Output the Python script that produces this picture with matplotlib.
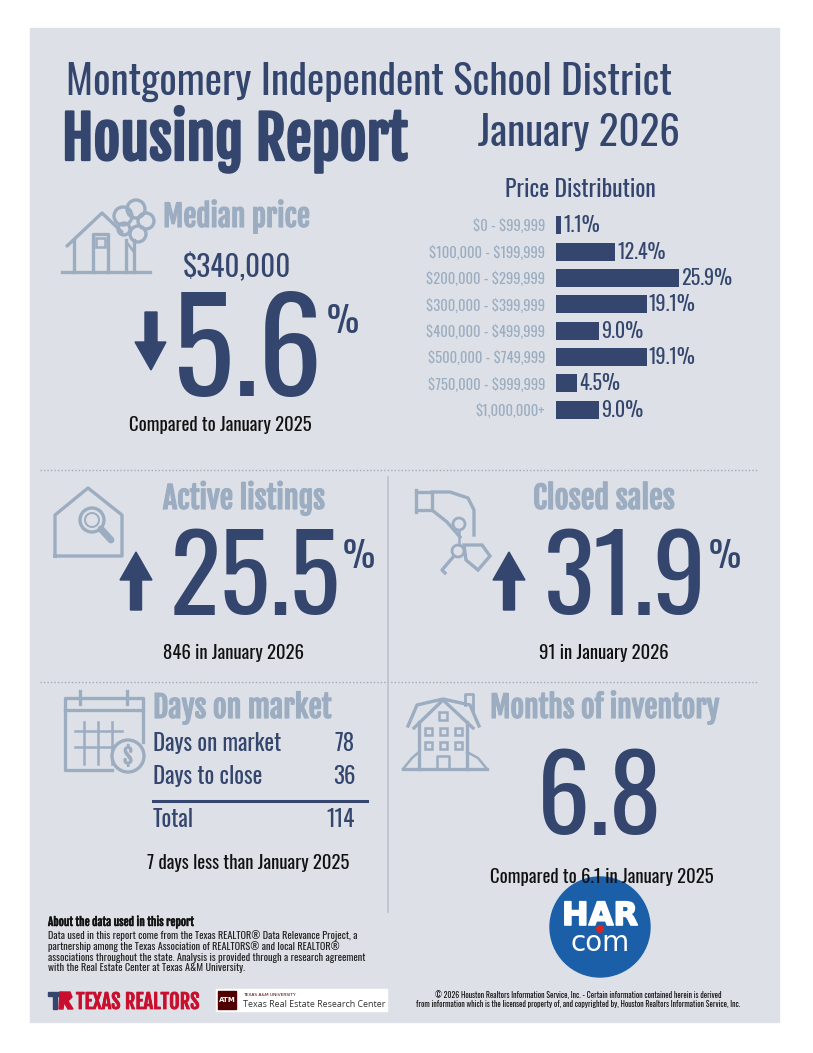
import matplotlib
matplotlib.use("Agg")
import matplotlib.pyplot as plt
from matplotlib import font_manager as fm
from matplotlib import patheffects as pe
from matplotlib.patches import Rectangle, Circle, Polygon

# ---- data ----
area_name = "Montgomery Independent School District"
report_month = "January 2026"
price_bins = ["$0 - $99,999", "$100,000 - $199,999", "$200,000 - $299,999",
              "$300,000 - $399,999", "$400,000 - $499,999", "$500,000 - $749,999",
              "$750,000 - $999,999", "$1,000,000+"]
price_share = [1.1, 12.4, 25.9, 19.1, 9.0, 19.1, 4.5, 9.0]
median_price = "$340,000"
median_change = "5.6"
active_change = "25.5"
active_count = "846 in January 2026"
closed_change = "31.9"
closed_count = "91 in January 2026"
dom_rows = ["Days on market", "Days to close"]
dom_vals = [78, 36]
dom_note = "7 days less than January 2025"
months_inv = "6.8"
months_note = "Compared to 6.1 in January 2025"

NAVY = "#34466e"
LIGHT = "#9cadc1"
PANEL = "#dde1e7"
INK = "#111111"

fonts = fm.fontManager.ttflist
avail = {f.name for f in fonts}
COND = next((f for f in ["Oswald", "Barlow Condensed", "Roboto Condensed", "Archivo Narrow"]
             if f in avail), "DejaVu Sans")
if "Fjalla One" in avail:
    BOLDF, BOLDW = "Fjalla One", "normal"
elif "Barlow Condensed" in avail:
    BOLDF, BOLDW = "Barlow Condensed", "bold"
else:
    BOLDF, BOLDW = COND, "bold"

W, H = 813, 1053
fig = plt.figure(figsize=(W / 100, H / 100), dpi=100)
ax = fig.add_axes([0, 0, 1, 1])
ax.set_xlim(0, W)
ax.set_ylim(H, 0)
ax.axis("off")
renderer = fig.canvas.get_renderer()

ax.add_patch(Rectangle((30, 28), 749, 994, color=PANEL, zorder=0))


def esc(s):
    return s.replace("$", r"\$")


def txt(x, y, s, size, color=NAVY, weight="normal", ha="left", va="baseline", family=None,
        width=None, **kw):
    heavy = weight == "bold" and family is None
    if heavy:
        family, weight = [BOLDF, "DejaVu Sans"], BOLDW
    t = ax.text(x, y, esc(s), fontsize=size, color=color, fontweight=weight, ha=ha, va=va,
                family=family or [COND, "DejaVu Sans"], **kw)
    if width:
        # scale font so the text spans the same width as in the reference
        w = t.get_window_extent(renderer).width
        t.set_fontsize(size * width / w)
    if heavy:
        t.set_path_effects([pe.withStroke(linewidth=t.get_fontsize() * 0.04,
                                          foreground=color)])
    return t


# ---- header ----
txt(66, 95, area_name, 29.6, width=607)
txt(62, 160, "Housing Report", 38, weight="bold", width=346)
txt(478, 146, report_month, 30, width=202)

# ---- median price ----
txt(163, 227, "Median price", 21, color=LIGHT, weight="bold", width=147)
txt(237, 276, median_price, 21, ha="center")
txt(322, 396, median_change, 92, ha="right")
txt(327, 333, "%", 26)
ax.add_patch(Polygon([(145, 312), (157, 312), (157, 342), (166, 342), (151, 370),
                      (135, 342), (145, 342)], closed=True, color=NAVY))
txt(220, 431, "Compared to January 2025", 13.5, color=INK, ha="center")

# house + tree icon
lw = 2.4
ax.plot([62, 150], [272, 272], color=LIGHT, lw=lw)
ax.plot([67, 102, 122], [246, 213, 232], color=LIGHT, lw=lw, solid_capstyle="round")
ax.plot([74, 74], [240, 272], color=LIGHT, lw=lw)
ax.plot([126, 126], [240, 272], color=LIGHT, lw=lw)
ax.plot([93, 93, 108, 108], [272, 234, 234, 272], color=LIGHT, lw=lw)
ax.add_patch(Rectangle((96, 238), 9, 9, fill=False, ec=LIGHT, lw=1.8))
for cx, cy, r in [(123, 216, 9), (136, 209, 9), (146, 221, 8), (138, 234, 8), (124, 229, 6)]:
    ax.add_patch(Circle((cx, cy), r, fill=False, ec=LIGHT, lw=lw))
ax.plot([134, 134], [240, 272], color=LIGHT, lw=lw)
ax.plot([134, 128], [252, 244], color=LIGHT, lw=1.8)

# ---- price distribution ----
txt(580, 197, "Price Distribution", 17, ha="center")
bx = fig.add_axes([556 / W, 1 - 423 / H, 130 / W, 211 / H])
bx.set_xlim(0, 130 / 4.75)
bx.set_ylim(len(price_bins) - 0.5, -0.5)
bx.barh(range(len(price_bins)), price_share, height=0.68, color=NAVY)
bx.set_yticks(range(len(price_bins)))
bx.set_yticklabels([esc(b) for b in price_bins], color=LIGHT, fontsize=10.5,
                   family=[COND, "DejaVu Sans"])
bx.tick_params(axis="y", length=0, pad=8)
bx.set_xticks([])
for s in bx.spines.values():
    s.set_visible(False)
bx.patch.set_visible(False)
for i, v in enumerate(price_share):
    bx.text(v + 0.45, i, f"{v:.1f}%", va="center", ha="left", fontsize=14.5, color=NAVY,
            family=[COND, "DejaVu Sans"])

# ---- separators ----
ax.plot([40, 757], [470, 470], color="#a3aab6", lw=1, ls=(0, (1, 1.5)))
ax.plot([40, 757], [682, 682], color="#a3aab6", lw=1, ls=(0, (1, 1.5)))
ax.plot([388, 388], [477, 912], color="#bcc2cb", lw=1.2)


def up_arrow(x0, x1, top, bottom):
    cx = (x0 + x1) / 2
    hw = 5.5
    ax.add_patch(Polygon([(cx, top), (x1, top + 28), (cx + hw, top + 28), (cx + hw, bottom),
                          (cx - hw, bottom), (cx - hw, top + 28), (x0, top + 28)],
                         closed=True, color=NAVY))


# ---- active listings ----
txt(163, 509, "Active listings", 21, color=LIGHT, weight="bold", width=162)
up_arrow(120, 152, 552, 610)
txt(340, 615, active_change, 76, ha="right")
txt(343, 568, "%", 26)
txt(233, 659, active_count, 13.5, color=INK, ha="center")
ax.plot([55, 55, 88, 122, 122, 55], [556, 515, 488, 515, 556, 556], color=LIGHT, lw=lw,
        solid_joinstyle="round")
ax.add_patch(Circle((92, 520), 12, fill=False, ec=LIGHT, lw=lw))
ax.add_patch(Circle((92, 520), 7, fill=False, ec=LIGHT, lw=1.4))
ax.plot([101, 111], [529, 540], color=LIGHT, lw=5, solid_capstyle="round")

# ---- closed sales ----
txt(533, 509, "Closed sales", 21, color=LIGHT, weight="bold", width=142)
up_arrow(493, 525, 552, 610)
txt(707, 615, closed_change, 76, ha="right")
txt(709, 568, "%", 26)
txt(604, 659, closed_count, 13.5, color=INK, ha="center")
ax.plot([416, 416], [490, 512], color=LIGHT, lw=lw)
ax.plot([416, 432, 432, 416], [492, 492, 510, 510], color=LIGHT, lw=lw)
ax.plot([432, 450, 468, 474, 474], [492, 492, 498, 510, 535], color=LIGHT, lw=lw)
ax.plot([432, 447, 460], [510, 522, 537], color=LIGHT, lw=lw)
ax.add_patch(Circle((459, 524), 6, fill=False, ec=LIGHT, lw=2))
ax.plot([459, 459], [530, 545], color=LIGHT, lw=1.8)
ax.add_patch(Circle((458, 551), 6, fill=False, ec=LIGHT, lw=2))
ax.plot([454, 442, 445], [556, 570, 573], color=LIGHT, lw=lw)
ax.add_patch(Polygon([(464, 545), (482, 545), (490, 556), (478, 570), (466, 560)],
                     closed=True, fill=False, ec=LIGHT, lw=lw))

# ---- days on market ----
txt(153, 718, "Days on market", 21, color=LIGHT, weight="bold", width=178)
for i, (lab, val) in enumerate(zip(dom_rows, dom_vals)):
    y = 751 + i * 33
    txt(153, y, lab, 16.5)
    txt(355, y, str(val), 16.5, ha="right")
ax.plot([153, 367], [801, 801], color=NAVY, lw=2.2)
txt(153, 827, "Total", 16.5)
txt(355, 827, str(sum(dom_vals)), 16.5, ha="right")
txt(248, 869, dom_note, 13.5, color=INK, ha="center")
# calendar icon
ax.plot([112, 65, 65, 143, 143], [770, 770, 698, 698, 742], color=LIGHT, lw=lw)
ax.plot([65, 143], [710, 710], color=LIGHT, lw=lw)
for x in [80, 127]:
    ax.plot([x, x], [691, 704], color=LIGHT, lw=lw)
for x in [84, 98, 112]:
    ax.plot([x, x], [722, 764], color=LIGHT, lw=1.8)
for y in [731, 747]:
    ax.plot([75, 122], [y, y], color=LIGHT, lw=1.8)
ax.add_patch(Circle((128, 756), 16, fill=False, ec=LIGHT, lw=lw, zorder=3))
ax.add_patch(Circle((128, 756), 14.5, color=PANEL, zorder=2))
txt(128, 757, "$", 15, color=LIGHT, weight="bold", ha="center", va="center", zorder=4)

# ---- months of inventory ----
txt(490, 718, "Months of inventory", 21, color=LIGHT, weight="bold", width=229)
txt(600, 835, months_inv, 76, ha="center")
txt(602, 883, months_note, 13.5, color=INK, ha="center", zorder=5)
ax.plot([403, 487], [769, 769], color=LIGHT, lw=lw)
ax.plot([408, 417, 443, 470, 479], [726, 705, 699, 705, 726], color=LIGHT, lw=lw)
ax.plot([414, 443, 473], [728, 700, 728], color=LIGHT, lw=lw)
ax.plot([419, 419], [722, 769], color=LIGHT, lw=lw)
ax.plot([467, 467], [722, 769], color=LIGHT, lw=lw)
ax.plot([465, 465, 473, 473], [705, 694, 694, 712], color=LIGHT, lw=2)
ax.add_patch(Rectangle((439, 712), 8, 8, fill=False, ec=LIGHT, lw=1.8))
for r in range(2):
    for c in range(3):
        ax.add_patch(Rectangle((425 + c * 15, 728 + r * 14), 7, 7, fill=False, ec=LIGHT, lw=1.8))
ax.plot([437, 437, 449, 449], [769, 756, 756, 769], color=LIGHT, lw=1.8)
ax.plot([403, 412, 419], [769, 758, 752], color=LIGHT, lw=1.8)
ax.plot([487, 478, 467], [769, 758, 752], color=LIGHT, lw=1.8)

# ---- HAR logo ----
ax.add_patch(Circle((600, 927), 50, color="#1b5fa9", zorder=4))
t = txt(600, 925, "HAR", 23, color="white", weight="bold", ha="center", zorder=6,
        family=["DejaVu Sans"])
t.set_path_effects([pe.withStroke(linewidth=1.2, foreground="white")])
txt(600, 951, "com", 20, color="white", ha="center", zorder=6, family=["DejaVu Sans"])
ax.add_patch(Circle((600, 929), 3.2, color="#e2231a", zorder=7))

# ---- footer ----
txt(48, 926, "About the data used in this report", 8.3, color=INK, weight="bold", width=145)
about = ["Data used in this report come from the Texas REALTOR\u00ae Data Relevance Project, a",
         "partnership among the Texas Association of REALTORS\u00ae and local REALTOR\u00ae",
         "associations throughout the state. Analysis is provided through a research agreement",
         "with the Real Estate Center at Texas A&M University."]
for i, line in enumerate(about):
    txt(48, 939 + i * 10.8, line, 7.4, color="#222222")

ax.add_patch(Polygon([(48, 992), (62, 992), (62, 996), (57, 996), (57, 1009), (53, 1009),
                      (53, 996), (48, 996)], closed=True, color=NAVY))
ax.add_patch(Polygon([(60, 992), (70, 992), (72, 997), (68, 1001), (73, 1009), (68, 1009),
                      (64, 1002), (63, 1009), (59, 1009)], closed=True, color="#c8102e"))
txt(76, 1009, "TEXAS REALTORS", 13.5, color="#c8102e", weight="bold", width=123)

ax.add_patch(Rectangle((216, 989), 171, 22, color="white", zorder=2))
ax.add_patch(Rectangle((218, 991), 18, 18, color="#500000", zorder=3))
txt(227, 1000, "ATM", 5, color="white", weight="bold", ha="center", va="center", zorder=4,
    family=["DejaVu Sans"])
txt(243, 996, "TEXAS A&M UNIVERSITY", 3.2, color="#500000", zorder=4, family=["DejaVu Sans"])
txt(243, 1007, "Texas Real Estate Research Center", 6.4, color="#333333", zorder=4,
    family=["Open Sans", "DejaVu Sans"])

txt(578, 998, "\u00a9 2026 Houston Realtors Information Service, Inc. - Certain information "
    "contained herein is derived", 5.7, color=INK, ha="center")
txt(578, 1007, "from information which is the licensed property of, and copyrighted by, "
    "Houston Realtors Information Service, Inc.", 5.7, color=INK, ha="center")

fig.savefig("out.png", dpi=100, facecolor="white")
